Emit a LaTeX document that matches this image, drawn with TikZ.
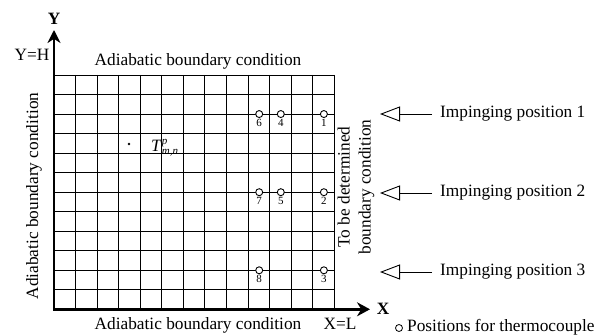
\documentclass[tikz,border=0pt]{standalone}
\usepackage{fontspec}
\setmainfont{Liberation Serif}
\usetikzlibrary{arrows.meta}
\newcommand{\smallit}[1]{{\fontsize{11}{12}\selectfont\itshape #1}}
\begin{document}
\begin{tikzpicture}[x=1pt,y=-1pt,
 lbl/.style={font=\fontsize{17.3}{21}\selectfont, inner sep=0pt},
 axlbl/.style={font=\fontsize{17.3}{21}\selectfont\bfseries, inner sep=0pt},
 num/.style={font=\fontsize{11}{12}\selectfont, inner sep=0pt},
 tc/.style={circle, draw, fill=white, minimum size=7pt, inner sep=0pt, line width=0.9pt},
 gridline/.style={line width=0.9pt},
 axis/.style={line width=2.8pt, line join=miter, {Stealth[length=13pt,width=13pt]}-{Stealth[length=13pt,width=14pt]}},
 imp/.style={line width=0.9pt, -{Triangle[open,length=20pt,width=15pt,line width=0.9pt]}}]
\useasboundingbox (0,0) rectangle (613,336);
% grid
\foreach \i in {1,...,13} \draw[gridline] ({54+21.55*\i},75) -- ({54+21.55*\i},309.3);
\foreach \j in {0,...,11} \draw[gridline] (54,{75+19.525*\j}) -- (334.3,{75+19.525*\j});
% axes
\coordinate (O) at (54,309.3);
\coordinate (Ytip) at (54,30);
\coordinate (Xtip) at (370,309.3);
\draw[axis] (Ytip) -- (O) -- (Xtip);
\node[axlbl] (Ylab) at (54,19) {Y};
\node[axlbl] (Xlab) at (383,309) {X};
\node[lbl] (YH) at (32,55) {Y=H};
\node[lbl] (XL) at (340,324) {X=L};
% boundary labels
\node[lbl] (top) at (198,61) {Adiabatic boundary condition};
\node[lbl] (bottom) at (198,325) {Adiabatic boundary condition};
\node[lbl, rotate=90] (left) at (34,196) {Adiabatic boundary condition};
\node[lbl, rotate=90, align=center] (right) at (356,187) {To be determined\\boundary condition};
% interior point
\fill (129,144) circle (1.3pt);
\node[lbl, anchor=west] (T) at (151,148) {\textit{T}\raisebox{7pt}{\smallit{p}}\hspace{-5.5pt}\raisebox{-3.5pt}{\smallit{m,n}}};
% thermocouples
\foreach \x/\y/\n in {259.2/114.05/6, 280.8/114.05/4, 323.9/114.05/1,
                      259.2/192.2/7, 280.8/192.2/5, 323.9/192.2/2,
                      259.2/270.3/8, 323.9/270.3/3}{
  \node[tc] (tc\n) at (\x,\y) {};
  \node[num, anchor=north] (n\n) at (\x,{\y+5}) {\n};
}
% impinging arrows
\foreach \k/\y in {1/114,2/193,3/272}{
  \node[lbl, anchor=west] (imp\k) at (440,\y) {Impinging position \k};
  \coordinate (tip\k) at (380,\y);
  \coordinate (tail\k) at (432,\y);
  \draw[imp] (tail\k) -- (tip\k);
}
% legend
\node[circle, draw, minimum size=7pt, inner sep=0pt, line width=0.8pt] (leg) at (399,328) {};
\node[lbl, anchor=west] (legtext) at (407,327) {Positions for thermocouple};
\end{tikzpicture}
\end{document}
